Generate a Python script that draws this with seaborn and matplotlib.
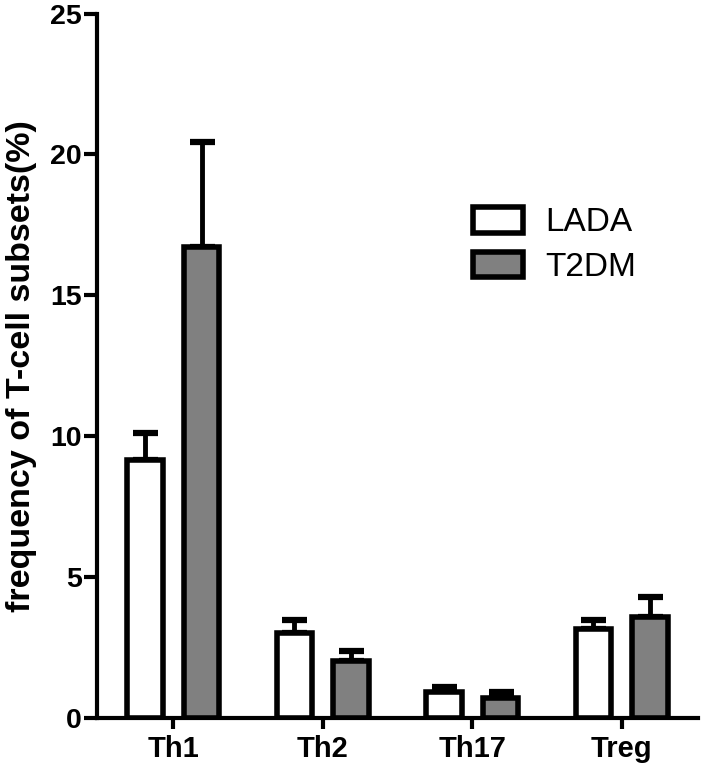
import pandas as pd
import matplotlib
matplotlib.use("Agg")
import matplotlib.pyplot as plt
import seaborn as sns

subsets = ["Th1", "Th2", "Th17", "Treg"]
groups = ["LADA", "T2DM"]
lada_mean = [9.15, 3.0, 0.94, 3.16]
lada_sem = [0.97, 0.48, 0.15, 0.32]
t2dm_mean = [16.7, 2.02, 0.70, 3.57]
t2dm_sem = [3.73, 0.34, 0.22, 0.74]

df = pd.DataFrame({
    "subset": subsets * 2,
    "group": ["LADA"] * 4 + ["T2DM"] * 4,
    "freq": lada_mean + t2dm_mean,
})
sems = {"LADA": lada_sem, "T2DM": t2dm_sem}

sns.set_style("ticks", {"axes.edgecolor": "black", "xtick.color": "black",
                        "ytick.color": "black", "text.color": "black",
                        "axes.labelcolor": "black"})
plt.rcParams["font.family"] = ["Liberation Sans", "DejaVu Sans"]

fig = plt.figure(figsize=(7.18, 7.68), dpi=100)
ax = fig.add_axes([97 / 718, 50 / 768, 601 / 718, 704.5 / 768])

sns.barplot(data=df, x="subset", y="freq", hue="group", order=subsets,
            hue_order=groups, palette=["white", "#808080"], edgecolor="black",
            linewidth=4, width=0.76, gap=0.376, errorbar=None, ax=ax,
            zorder=3)

# upward-only error bars (SEM)
for cont, g in zip(ax.containers, groups):
    xs = [b.get_x() + b.get_width() / 2 for b in cont]
    ys = [b.get_height() for b in cont]
    ax.errorbar(xs, ys, yerr=[[0] * len(xs), sems[g]], fmt="none",
                ecolor="black", elinewidth=3.5, capsize=9, capthick=4.5,
                zorder=2)

ax.set_xlim(-0.51, 3.51)
ax.set_ylim(0, 25)
ax.set_yticks([0, 5, 10, 15, 20, 25])
ax.set_xlabel("")
ax.set_ylabel("frequency of T-cell subsets(%)", fontsize=24.5,
              fontweight="bold", color="black")
ax.yaxis.set_label_coords(-0.1, 0.5)

sns.despine(ax=ax)
for s in ["left", "bottom"]:
    ax.spines[s].set_linewidth(3)
    ax.spines[s].set_color("black")
ax.tick_params(axis="y", length=9.5, width=3, pad=1.5, labelsize=20.5,
               colors="black")
ax.tick_params(axis="x", length=8, width=3, pad=4.5, labelsize=21,
               colors="black")
for lab in ax.get_xticklabels() + ax.get_yticklabels():
    lab.set_fontweight("bold")

leg = ax.legend(loc="upper left", bbox_to_anchor=(0.659, 1 - 207 / 768),
                bbox_transform=fig.transFigure, frameon=False, fontsize=24,
                handlelength=1.5, handleheight=0.8, handletextpad=0.66,
                labelspacing=0.4, borderpad=0, borderaxespad=0)

fig.savefig("out.png", dpi=100)
